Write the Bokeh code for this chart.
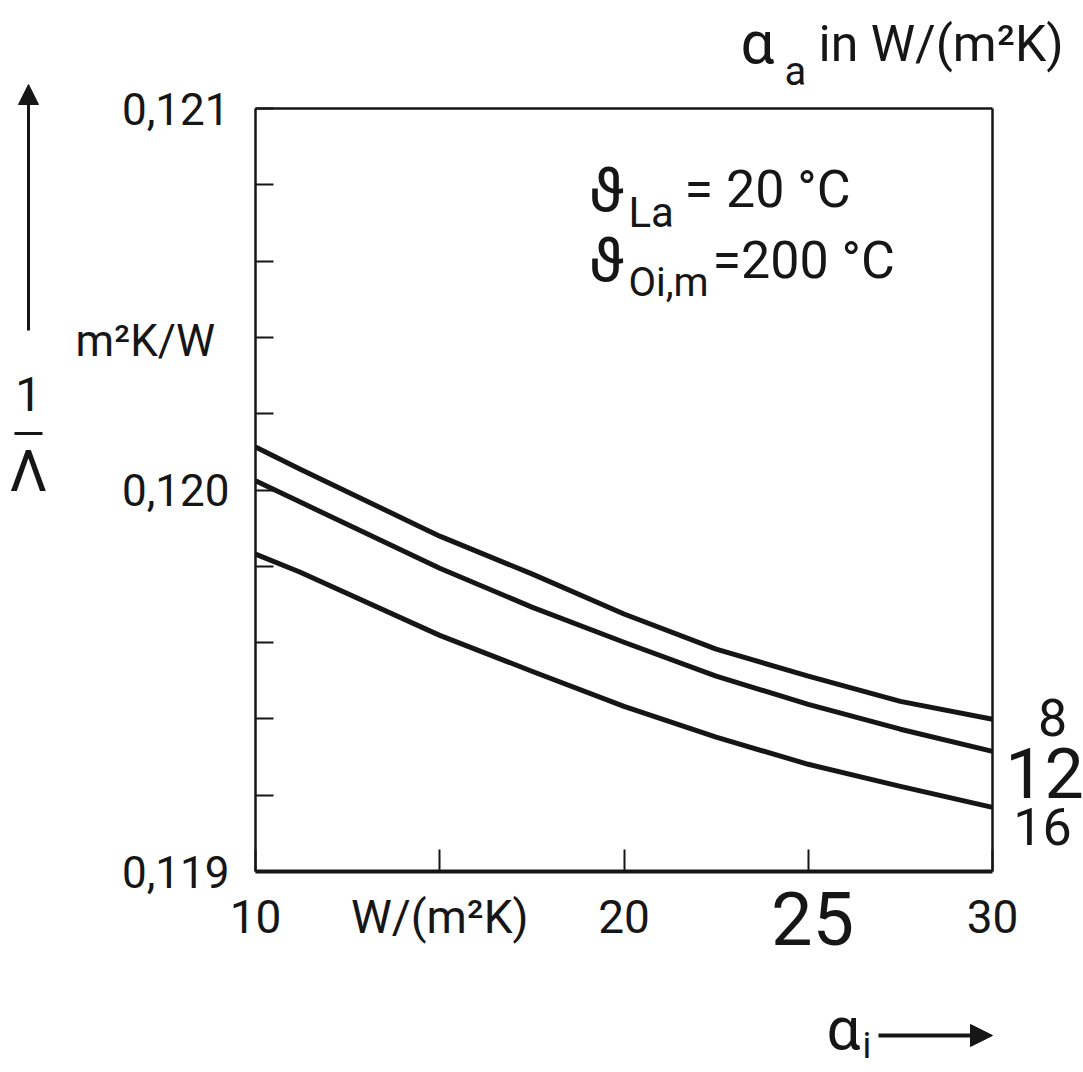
from bokeh.plotting import figure
from bokeh.models import Label, Arrow, NormalHead, FixedTicker, Range1d, LinearAxis
from bokeh.embed import file_html
from bokeh.resources import INLINE

# ---------------- data ----------------
alpha_i = [10, 11.2, 15, 17.5, 20, 22.5, 25, 27.5, 30]
inv_lambda_a8 = [0.120113, 0.120055, 0.119879, 0.119780, 0.119675, 0.119583, 0.119512, 0.119446, 0.119399]
inv_lambda_a12 = [0.120024, 0.119969, 0.119795, 0.119693, 0.119601, 0.119512, 0.119438, 0.119373, 0.119315]
inv_lambda_a16 = [0.119832, 0.119785, 0.119619, 0.119525, 0.119433, 0.119352, 0.119281, 0.119223, 0.119168]
alpha_a_names = ["8", "12", "16"]

x_min, x_max = 10, 30
y_min, y_max = 0.119, 0.121
x_ticks = [10, 15, 20, 25, 30]
x_tick_labels = ["10", "W/(m²K)", "20", "", "30"]
y_major_ticks = [0.119, 0.120, 0.121]
y_major_labels = ["0,119", "0,120", "0,121"]
y_minor_ticks = [0.1192, 0.1194, 0.1196, 0.1198, 0.1202, 0.1204, 0.1206, 0.1208]

FONT = "Roboto"
INK = "#161616"

# where the data box sits on the page (pixels)
W, H = 1083, 1072
X0, X1, Y0, Y1 = 255, 992, 108, 871
kx = (x_max - x_min) / (X1 - X0)
ky = (y_max - y_min) / (Y1 - Y0)

p = figure(width=W, height=H, output_backend="svg", toolbar_location=None,
           x_range=Range1d(x_min - X0 * kx, x_max + (W - X1) * kx),
           y_range=Range1d(y_min - (H - Y1) * ky, y_max + Y0 * ky),
           min_border=0)
p.background_fill_color = "white"
p.border_fill_color = "white"
p.outline_line_color = None
p.xgrid.visible = False
p.ygrid.visible = False


def style_axis(ax, width):
    ax.axis_line_width = width
    ax.axis_line_color = INK
    ax.major_tick_out = 0
    ax.minor_tick_out = 0
    ax.major_tick_line_color = INK
    ax.minor_tick_line_color = INK
    ax.major_tick_line_width = 2
    ax.minor_tick_line_width = 2
    ax.major_label_text_font = FONT
    ax.major_label_text_color = INK


# bottom axis
xa = p.xaxis[0]
xa.fixed_location = y_min
xa.bounds = (x_min, x_max)
xa.ticker = FixedTicker(ticks=x_ticks)
xa.major_label_overrides = {t: l for t, l in zip(x_ticks, x_tick_labels)}
style_axis(xa, 4)
xa.major_tick_in = 22
xa.minor_tick_in = 0
xa.major_label_text_font_size = "46px"
xa.major_label_standoff = 18

# left axis
ya = p.yaxis[0]
ya.fixed_location = x_min
ya.bounds = (y_min, y_max)
ya.ticker = FixedTicker(ticks=y_major_ticks, minor_ticks=y_minor_ticks)
ya.major_label_overrides = {t: l for t, l in zip(y_major_ticks, y_major_labels)}
style_axis(ya, 2.5)
ya.major_tick_in = 18
ya.minor_tick_in = 18
ya.major_label_text_font_size = "44px"
ya.major_label_standoff = 26

# right and top frame lines
ra = LinearAxis(fixed_location=x_max, bounds=(y_min, y_max), ticker=FixedTicker(ticks=[]))
style_axis(ra, 2.5)
ra.major_tick_in = 0
ra.minor_tick_in = 0
p.add_layout(ra, "right")
ta = LinearAxis(fixed_location=y_max, bounds=(x_min, x_max), ticker=FixedTicker(ticks=[]))
style_axis(ta, 2.5)
ta.major_tick_in = 0
ta.minor_tick_in = 0
p.add_layout(ta, "above")

# curves
series = [inv_lambda_a8, inv_lambda_a12, inv_lambda_a16]
for vals in series:
    p.line(alpha_i, vals, line_width=5, line_color=INK, line_join="round")


def lab(text, px, base, size, align="left"):
    # base = wanted baseline in page pixels
    p.add_layout(Label(x=px, y=base - 0.34 * size, x_units="canvas", y_units="canvas",
                       text=text, text_font=FONT, text_font_size=f"{size}px",
                       text_color=INK, text_align=align, text_baseline="alphabetic"))


def mid(text, px, py, size):
    p.add_layout(Label(x=px, y=py, x_units="canvas", y_units="canvas",
                       text=text, text_font=FONT, text_font_size=f"{size}px",
                       text_color=INK, text_align="center", text_baseline="middle"))


def line_ann(x0, y0, x1, y1, width, head=None):
    p.add_layout(Arrow(end=head, x_start=x0, y_start=y0, x_end=x1, y_end=y1,
                       start_units="canvas", end_units="canvas",
                       line_width=width, line_color=INK))


# series labels at right
mid(alpha_a_names[0], 1052, 717, 52)
mid(alpha_a_names[1], 1044, 772, 70)
mid(alpha_a_names[2], 1042, 826, 52)

# big "25" tick label
mid("25", 812, 918, 74)

# top right unit
lab("α", 740, 62, 60)
lab("a", 784, 85, 40)
lab("in W/(m²K)", 818, 60, 50)

# annotation temperatures
lab("ϑ", 588, 210, 62)
lab("La", 628, 226, 42)
lab("= 20 °C", 684, 207, 52)
lab("ϑ", 588, 280, 62)
lab("Oi,m", 628, 296, 40)
lab("=200 °C", 712, 278, 52)

# y axis quantity
lab("m²K/W", 75, 355, 44)
lab("1", 28, 410, 48, "center")
lab("Λ", 28, 490, 58, "center")
line_ann(14, 433, 42, 433, 3)
line_ann(28, 330, 28, 84, 3, NormalHead(size=20, fill_color=INK, line_color=INK))

# x axis quantity
lab("α", 826, 1048, 60)
lab("i", 862, 1058, 36)
line_ann(878, 1035, 992, 1035, 4, NormalHead(size=22, fill_color=INK, line_color=INK))

open("out.html", "w").write(file_html(p, INLINE))
